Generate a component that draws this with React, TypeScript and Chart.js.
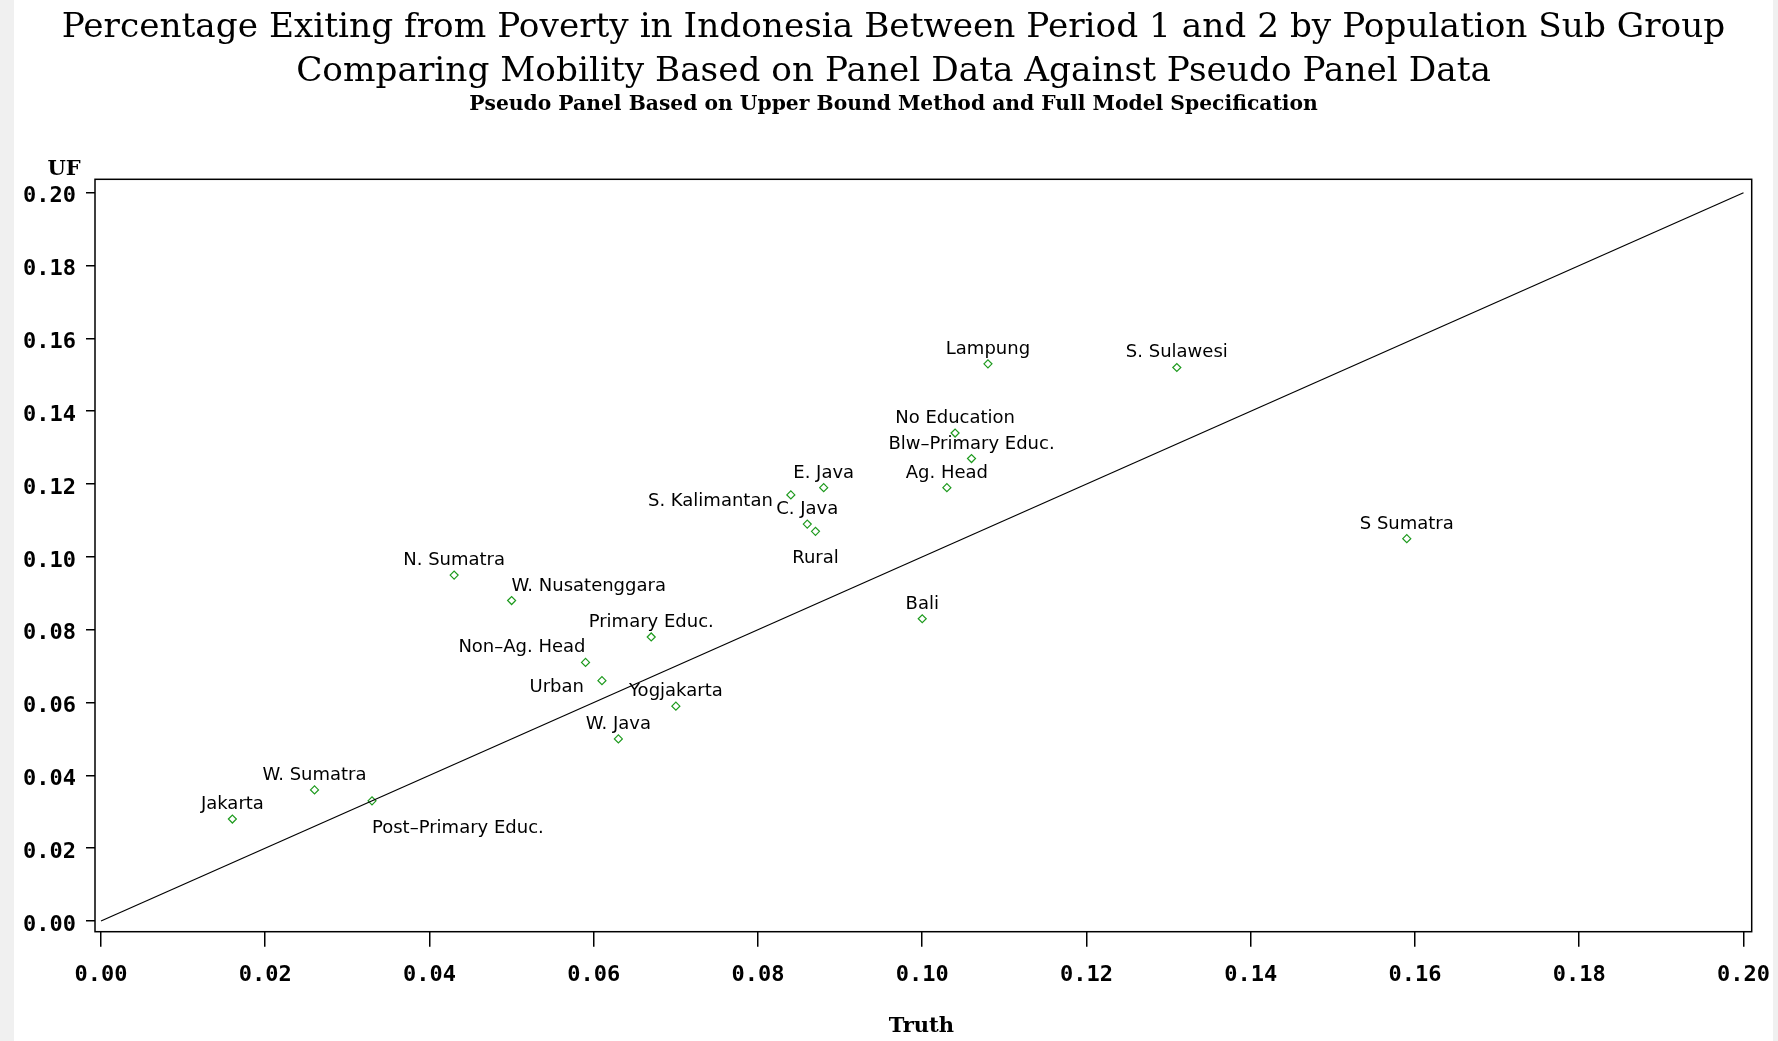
import React, { useEffect, useRef } from "react";
import { Chart, registerables } from "chart.js";

Chart.register(...registerables);

// Population sub groups with panel ("Truth") and pseudo panel ("UF") exit rates
const groups = [
  "Jakarta",
  "W. Sumatra",
  "Post\u2013Primary Educ.",
  "N. Sumatra",
  "W. Nusatenggara",
  "Non\u2013Ag. Head",
  "Urban",
  "Primary Educ.",
  "W. Java",
  "Yogjakarta",
  "S. Kalimantan",
  "C. Java",
  "Rural",
  "E. Java",
  "Bali",
  "Ag. Head",
  "No Education",
  "Blw\u2013Primary Educ.",
  "Lampung",
  "S. Sulawesi",
  "S Sumatra",
];

const truth = [
  0.016, 0.026, 0.033, 0.043, 0.05, 0.059, 0.061, 0.067, 0.063, 0.07, 0.084,
  0.086, 0.087, 0.088, 0.1, 0.103, 0.104, 0.106, 0.108, 0.131, 0.159,
];

const uf = [
  0.028, 0.036, 0.033, 0.095, 0.088, 0.071, 0.066, 0.078, 0.05, 0.059, 0.117,
  0.109, 0.107, 0.119, 0.083, 0.119, 0.134, 0.127, 0.153, 0.152, 0.105,
];

// Where each group's name sits relative to its marker
const labelPlacement = [
  "above", "above", "belowRight", "above", "aboveRight", "aboveLeft", "left",
  "above", "above", "above", "left", "above", "below", "above", "above",
  "above", "above", "above", "above", "above", "above",
];

// 45-degree reference line (UF = Truth)
const diagonal = [0, 0.2];

const axisTicks = [0, 0.02, 0.04, 0.06, 0.08, 0.1, 0.12, 0.14, 0.16, 0.18, 0.2];

const titleLines = [
  "Percentage Exiting from Poverty in Indonesia Between Period 1 and 2 by Population Sub Group",
  "Comparing Mobility Based on Panel Data Against Pseudo Panel Data",
];
const subtitle = "Pseudo Panel Based on Upper Bound Method and Full Model Specification";
const xTitle = "Truth";
const yTitle = "UF";

const TICK_FONT = { family: "'DejaVu Sans Mono'", size: 22, weight: "bold" as const };

const frame = {
  id: "frame",
  afterDatasetsDraw(chart: any) {
    const { ctx, chartArea: a } = chart;
    ctx.save();
    ctx.strokeStyle = "#000";
    ctx.lineWidth = 1.5;
    ctx.strokeRect(a.left, a.top, a.right - a.left, a.bottom - a.top);
    ctx.restore();
  },
};

const pointLabels = {
  id: "pointLabels",
  afterDatasetsDraw(chart: any) {
    const { ctx } = chart;
    const x = chart.scales.x;
    const y = chart.scales.y;
    ctx.save();
    ctx.font = "18px 'DejaVu Sans'";
    ctx.fillStyle = "#000";
    ctx.textBaseline = "alphabetic";
    groups.forEach((name, i) => {
      const px = x.getPixelForValue(truth[i]);
      const py = y.getPixelForValue(uf[i]);
      let tx = px;
      let ty = py - 10;
      let align: CanvasTextAlign = "center";
      switch (labelPlacement[i]) {
        case "aboveRight":
          align = "left";
          break;
        case "aboveLeft":
          align = "right";
          break;
        case "below":
          ty = py + 32;
          break;
        case "belowRight":
          ty = py + 32;
          align = "left";
          break;
        case "left":
          tx = px - 18;
          ty = py + 11;
          align = "right";
          break;
      }
      ctx.textAlign = align;
      ctx.fillText(name, tx, ty);
    });
    ctx.restore();
  },
};

const headings = {
  id: "headings",
  afterDraw(chart: any) {
    const { ctx, width, chartArea } = chart;
    const cx = width / 2;
    ctx.save();
    ctx.fillStyle = "#000";
    ctx.textBaseline = "alphabetic";
    ctx.textAlign = "center";
    ctx.font = "34.3px 'DejaVu Serif'";
    ctx.fillText(titleLines[0], cx, 37);
    ctx.fillText(titleLines[1], cx, 81);
    ctx.font = "bold 20.3px 'DejaVu Serif'";
    ctx.fillText(subtitle, cx, 110);
    ctx.font = "bold 21px 'DejaVu Serif'";
    ctx.fillText(yTitle, 50, 175);
    ctx.fillText(xTitle, (chartArea.left + chartArea.right) / 2 - 2, 1032);
    ctx.restore();
  },
};

export default function App() {
  const ref = useRef<HTMLCanvasElement>(null);

  useEffect(() => {
    document.body.style.margin = "0";
    const canvas = ref.current;
    if (!canvas) return;

    const chart = new Chart(canvas, {
      type: "scatter",
      data: {
        datasets: [
          {
            type: "line",
            data: diagonal.map((v) => ({ x: v, y: v })),
            borderColor: "#000",
            borderWidth: 1.2,
            pointRadius: 0,
            fill: false,
          } as any,
          {
            data: truth.map((t, i) => ({ x: t, y: uf[i] })),
            pointStyle: "rectRot",
            pointRadius: 4,
            borderColor: "#1e9a1e",
            borderWidth: 1.2,
            backgroundColor: "rgba(0,0,0,0)",
          },
        ],
      },
      options: {
        responsive: false,
        animation: false,
        layout: { padding: { top: 179.3, right: 21.3, left: 0, bottom: 0 } },
        plugins: {
          legend: { display: false },
          tooltip: { enabled: false },
          title: { display: false },
        },
        scales: {
          x: {
            type: "linear",
            min: -0.00073,
            max: 0.201,
            afterBuildTicks: (s: any) => {
              s.ticks = axisTicks.map((v) => ({ value: v }));
            },
            afterFit: (s: any) => {
              s.height = 109.3;
              s.paddingLeft = 0;
              s.paddingRight = 0;
            },
            grid: {
              display: true,
              drawOnChartArea: false,
              drawTicks: true,
              tickLength: 15,
              color: "#000",
              lineWidth: 1.5,
            },
            border: { display: false },
            ticks: {
              color: "#000",
              font: TICK_FONT,
              padding: 15,
              maxRotation: 0,
              autoSkip: false,
              callback: (v: any) => Number(v).toFixed(2),
            },
          },
          y: {
            type: "linear",
            min: -0.00294,
            max: 0.20368,
            afterBuildTicks: (s: any) => {
              s.ticks = axisTicks.map((v) => ({ value: v }));
            },
            afterFit: (s: any) => {
              s.width = 81;
              s.paddingTop = 0;
              s.paddingBottom = 0;
            },
            grid: {
              display: true,
              drawOnChartArea: false,
              drawTicks: true,
              tickLength: 9,
              color: "#000",
              lineWidth: 1.5,
            },
            border: { display: false },
            ticks: {
              color: "#000",
              font: TICK_FONT,
              padding: 10,
              labelOffset: 4,
              autoSkip: false,
              callback: (v: any) => Number(v).toFixed(2),
            },
          },
        },
      },
      plugins: [frame, pointLabels, headings],
    });

    return () => chart.destroy();
  }, []);

  return (
    <div style={{ position: "fixed", left: 0, top: 0, width: "100vw", height: "100vh", background: "#f0f0f0" }}>
      <div style={{ position: "absolute", left: 14, top: 0, width: 1759, height: 1041, background: "#fff" }}>
        <canvas ref={ref} width={1759} height={1041} style={{ display: "block", width: 1759, height: 1041 }} />
      </div>
    </div>
  );
}
